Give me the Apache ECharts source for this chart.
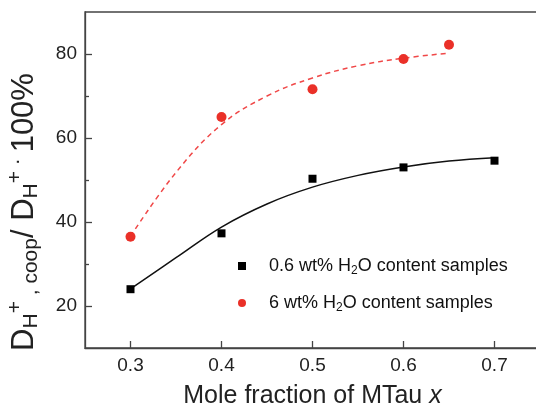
<!DOCTYPE html>
<html><head><meta charset="utf-8">
<script src="https://cdn.jsdelivr.net/npm/echarts@6/dist/echarts.min.js"></script>
<style>html,body{margin:0;padding:0;background:#fff}#c{width:536px;height:406px}</style>
</head><body><div id="c"></div>
<script>
const blackX = [0.3, 0.4, 0.5, 0.6, 0.7];
const blackY = [24.0, 37.3, 50.3, 53.0, 54.6];
const redX = [0.3, 0.4, 0.5, 0.6, 0.65];
const redY = [36.5, 65.0, 71.6, 78.8, 82.2];
const blackFitX = [0.3, 0.35, 0.4, 0.45, 0.5, 0.55, 0.6, 0.65, 0.7];
const blackFitY = [24.1, 31.5, 38.8, 44.3, 48.3, 51.1, 53.1, 54.5, 55.3];
const redFitX = [0.3, 0.35, 0.4, 0.45, 0.5, 0.55, 0.6, 0.65];
const redFitY = [36.6, 51.8, 63.2, 70.0, 74.3, 77.2, 79.0, 80.2];
const xTicks = [0.3, 0.4, 0.5, 0.6, 0.7];
const yTicks = [20, 40, 60, 80];
const yMinorTicks = [30, 50, 70];
const seriesNames = ['0.6 wt% H2O content samples', '6 wt% H2O content samples'];

const pairs = (xs, ys) => xs.map((x, i) => [x, ys[i]]);
const FONT = 'Liberation Sans';
const chart = echarts.init(document.getElementById('c'), null, {renderer: 'canvas'});
chart.setOption({
  animation: false,
  backgroundColor: '#fff',
  grid: {left: 85, top: 12, width: 455, height: 336, show: true, borderColor: '#444', borderWidth: 1.3,
         backgroundColor: 'transparent', containLabel: false, outerBoundsMode: 'none'},
  legend: {
    orient: 'vertical', left: 238, top: 255, padding: 0, itemGap: 15,
    itemWidth: 8, itemHeight: 8,
    data: [{name: seriesNames[0], icon: 'rect'}, {name: seriesNames[1], icon: 'circle'}],
    formatter: n => n.replace('H2O', 'H{sub|2}O'),
    textStyle: {
      fontFamily: FONT, fontSize: 18, color: '#111', padding: [0, 0, 0, 18], lineHeight: 22,
      rich: {sub: {fontFamily: FONT, fontSize: 12, lineHeight: 12, verticalAlign: 'bottom', color: '#111'}}
    }
  },
  xAxis: {
    type: 'value', min: 0.25, max: 0.75,
    axisLine: {show: true, lineStyle: {color: '#444', width: 1.3}},
    axisTick: {show: true, inside: true, length: 7, customValues: xTicks, lineStyle: {color: '#444', width: 1.3}},
    axisLabel: {customValues: xTicks, formatter: v => v.toFixed(1), fontFamily: FONT, fontSize: 19, color: '#222', margin: 8},
    splitLine: {show: false},
    name: '{n|Mole fraction of MTau }{i|x}', nameLocation: 'middle', nameGap: 36,
    nameTextStyle: {rich: {
      n: {fontFamily: FONT, fontSize: 25, color: '#222'},
      i: {fontFamily: FONT, fontSize: 25, fontStyle: 'italic', color: '#222'}
    }}
  },
  yAxis: [{
    type: 'value', min: 10, max: 90, position: 'left',
    axisLine: {show: true, lineStyle: {color: '#444', width: 1.3}},
    axisTick: {show: true, inside: true, length: 7, customValues: yTicks, lineStyle: {color: '#444', width: 1.3}},
    axisLabel: {customValues: yTicks, fontFamily: FONT, fontSize: 19, color: '#222', margin: 8},
    splitLine: {show: false},
    name: '{m|D}{hs|H}{sp|+}{sub| , coop}{m|/ D}{hs|H}{sp|+}{sup| · }{m|100%}',
    nameLocation: 'middle', nameRotate: 90, nameGap: 38,
    nameTextStyle: {padding: [0, 64, 0, 0], rich: {
      m: {fontFamily: FONT, fontSize: 31, lineHeight: 42, color: '#222'},
      hs: {fontFamily: FONT, fontSize: 21, lineHeight: 21, verticalAlign: 'bottom', padding: [0, 0, 3, 0], color: '#222'},
      sp: {fontFamily: FONT, fontSize: 21, lineHeight: 21, verticalAlign: 'top', padding: [2, 0, 0, 0], color: '#222'},
      sub: {fontFamily: FONT, fontSize: 21, lineHeight: 21, verticalAlign: 'bottom', padding: [0, 0, 3, 0], color: '#222'},
      sup: {fontFamily: FONT, fontSize: 21, lineHeight: 21, verticalAlign: 'top', padding: [4, 0, 0, 0], color: '#222'}
    }}
  }, {
    type: 'value', min: 10, max: 90, position: 'left', offset: 0,
    axisLine: {show: false},
    axisTick: {show: true, inside: true, length: 4, customValues: yMinorTicks, lineStyle: {color: '#444', width: 1.3}},
    axisLabel: {show: false},
    splitLine: {show: false}
  }],
  series: [
    {name: 'blackFit', type: 'line', data: pairs(blackFitX, blackFitY), smooth: 0.4, showSymbol: false, silent: true,
     lineStyle: {color: '#111', width: 1.5}, z: 2},
    {name: 'redFit', type: 'line', data: pairs(redFitX, redFitY), smooth: 0.4, showSymbol: false, silent: true,
     lineStyle: {color: '#f04848', width: 1.5, type: [5, 4]}, z: 2},
    {name: seriesNames[0], type: 'scatter', data: pairs(blackX, blackY), symbol: 'rect', symbolSize: 8,
     itemStyle: {color: '#000', opacity: 1}, z: 3},
    {name: seriesNames[1], type: 'scatter', data: pairs(redX, redY), symbol: 'circle', symbolSize: 10,
     itemStyle: {color: '#ea3028', opacity: 1}, z: 3}
  ]
});
</script></body></html>
